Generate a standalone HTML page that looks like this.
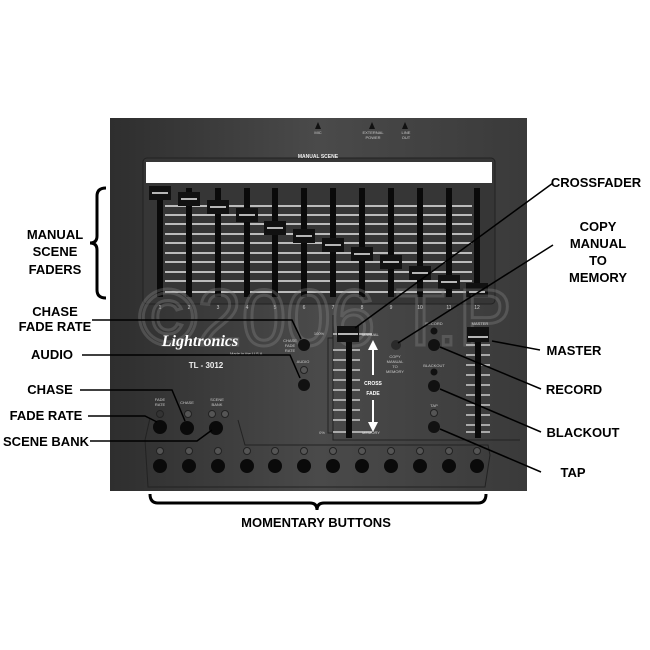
<!DOCTYPE html>
<html><head><style>body{margin:0;background:#fff}svg{display:block}</style></head><body>
<svg width="650" height="650" viewBox="0 0 650 650" xmlns="http://www.w3.org/2000/svg" font-family="Liberation Sans, sans-serif">
<defs>
<linearGradient id="pg" x1="0" x2="1" y1="0" y2="0">
<stop offset="0" stop-color="#2e2e2e"/><stop offset="0.5" stop-color="#4a4a4a"/><stop offset="1" stop-color="#3a3a3a"/></linearGradient>
</defs>
<rect x="0" y="0" width="650" height="650" fill="#fff"/>
<rect x="110" y="118" width="417" height="373" fill="url(#pg)"/>
<g fill="#111"><polygon points="318,122 315,129 321,129"/><polygon points="372,122 369,129 375,129"/><polygon points="405,122 402,129 408,129"/></g>
<g fill="#ccc" font-size="4" text-anchor="middle"><text x="318" y="134">MIC</text><text x="373" y="134">EXTERNAL</text><text x="373" y="139">POWER</text><text x="406" y="134">LINE</text><text x="406" y="139">OUT</text></g>
<rect x="143" y="158" width="352" height="146" rx="4" fill="#363636" stroke="#222"/>
<text x="318" y="158" fill="#eee" font-size="5" font-weight="bold" text-anchor="middle">MANUAL SCENE</text>
<rect x="146" y="162" width="346" height="21" fill="#fff"/>
<g stroke="#bbb" stroke-width="2">
<line x1="165" y1="206" x2="472" y2="206"/><line x1="165" y1="215" x2="472" y2="215"/><line x1="165" y1="224" x2="472" y2="224"/><line x1="165" y1="234" x2="472" y2="234"/><line x1="165" y1="243" x2="472" y2="243"/><line x1="165" y1="253" x2="472" y2="253"/><line x1="165" y1="262" x2="472" y2="262"/><line x1="165" y1="272" x2="472" y2="272"/><line x1="165" y1="281" x2="472" y2="281"/><line x1="165" y1="292" x2="472" y2="292"/>
</g>
<g fill="#0a0a0a">
<rect x="157" y="188" width="6" height="109"/><rect x="186" y="188" width="6" height="109"/><rect x="215" y="188" width="6" height="109"/><rect x="244" y="188" width="6" height="109"/><rect x="272" y="188" width="6" height="109"/><rect x="301" y="188" width="6" height="109"/><rect x="330" y="188" width="6" height="109"/><rect x="359" y="188" width="6" height="109"/><rect x="388" y="188" width="6" height="109"/><rect x="417" y="188" width="6" height="109"/><rect x="446" y="188" width="6" height="109"/><rect x="474" y="188" width="6" height="109"/>
</g>
<g fill="#111">
<rect x="149" y="186" width="22" height="14"/><rect x="178" y="192" width="22" height="14"/><rect x="207" y="200" width="22" height="14"/><rect x="236" y="208" width="22" height="14"/><rect x="264" y="221" width="22" height="14"/><rect x="293" y="229" width="22" height="14"/><rect x="322" y="238" width="22" height="14"/><rect x="351" y="247" width="22" height="14"/><rect x="380" y="255" width="22" height="14"/><rect x="409" y="266" width="22" height="14"/><rect x="438" y="275" width="22" height="14"/><rect x="466" y="283" width="22" height="14"/>
</g>
<g stroke="#eee" stroke-width="1.5">
<line x1="152" y1="193" x2="168" y2="193"/><line x1="181" y1="199" x2="197" y2="199"/><line x1="210" y1="207" x2="226" y2="207"/><line x1="239" y1="215" x2="255" y2="215"/><line x1="267" y1="228" x2="283" y2="228"/><line x1="296" y1="236" x2="312" y2="236"/><line x1="325" y1="245" x2="341" y2="245"/><line x1="354" y1="254" x2="370" y2="254"/><line x1="383" y1="262" x2="399" y2="262"/><line x1="412" y1="273" x2="428" y2="273"/><line x1="441" y1="282" x2="457" y2="282"/><line x1="469" y1="292" x2="485" y2="292"/>
</g>
<g fill="#ccc" font-size="5" text-anchor="middle">
<text x="160" y="309">1</text><text x="189" y="309">2</text><text x="218" y="309">3</text><text x="247" y="309">4</text><text x="275" y="309">5</text><text x="304" y="309">6</text><text x="333" y="309">7</text><text x="362" y="309">8</text><text x="391" y="309">9</text><text x="420" y="309">10</text><text x="449" y="309">11</text><text x="477" y="309">12</text>
</g>
<text x="325" y="345" fill="none" stroke="#888" stroke-opacity="0.35" stroke-width="3" font-size="80" text-anchor="middle">©2006 T.P</text>
<text x="200" y="346" fill="#fff" font-size="16" font-style="italic" font-weight="bold" font-family="Liberation Serif, serif" text-anchor="middle">Lightronics</text>
<text x="230" y="355" fill="#ccc" font-size="4">Made in the U.S.A.</text>
<text x="206" y="368" fill="#eee" font-size="8" font-weight="bold" text-anchor="middle">TL - 3012</text>
<g fill="#ccc" font-size="4" text-anchor="middle"><text x="290" y="342">CHASE</text><text x="290" y="347">FADE</text><text x="290" y="352">RATE</text><text x="303" y="363">AUDIO</text><text x="319" y="335">100%</text><text x="322" y="434">0%</text></g>
<circle cx="304" cy="345" r="6" fill="#111"/>
<circle cx="304" cy="370" r="3.5" fill="#555" stroke="#222"/>
<circle cx="304" cy="385" r="6" fill="#111"/>
<rect x="328" y="338" width="5" height="95" fill="none" stroke="#222"/>
<path d="M333 315 V440 H520" fill="none" stroke="#222"/>
<g stroke="#ccc" stroke-width="1.6">
<line x1="333" y1="350" x2="360" y2="350"/><line x1="333" y1="360" x2="360" y2="360"/><line x1="333" y1="370" x2="360" y2="370"/><line x1="333" y1="380" x2="360" y2="380"/><line x1="333" y1="390" x2="360" y2="390"/><line x1="333" y1="400" x2="360" y2="400"/><line x1="333" y1="410" x2="360" y2="410"/><line x1="333" y1="420" x2="360" y2="420"/><line x1="333" y1="432" x2="372" y2="432"/><line x1="333" y1="334" x2="372" y2="334"/>
</g>
<rect x="346" y="330" width="6" height="108" fill="#0a0a0a"/>
<rect x="337" y="326" width="22" height="16" fill="#111"/>
<line x1="338" y1="334" x2="358" y2="334" stroke="#eee" stroke-width="1.5"/>
<g fill="#ddd" font-size="4"><text x="362" y="336">MANUAL</text><text x="362" y="434">MEMORY</text></g>
<g stroke="#fff" stroke-width="2"><line x1="373" y1="348" x2="373" y2="375"/><line x1="373" y1="400" x2="373" y2="425"/></g>
<polygon points="373,340 368,350 378,350" fill="#fff"/><polygon points="373,432 368,422 378,422" fill="#fff"/>
<g fill="#fff" font-size="5" font-weight="bold" text-anchor="middle"><text x="373" y="385">CROSS</text><text x="373" y="395">FADE</text></g>
<circle cx="396" cy="345" r="5" fill="#2a2a2a"/>
<g fill="#ccc" font-size="4" text-anchor="middle"><text x="395" y="358">COPY</text><text x="395" y="363">MANUAL</text><text x="395" y="368">TO</text><text x="395" y="373">MEMORY</text></g>
<g fill="#ccc" font-size="4" text-anchor="middle"><text x="434" y="325">RECORD</text><text x="434" y="367">BLACKOUT</text><text x="434" y="407">TAP</text><text x="480" y="325">MASTER</text></g>
<circle cx="434" cy="331" r="3.5" fill="#111"/><circle cx="434" cy="345" r="6" fill="#111"/>
<circle cx="434" cy="372" r="3.5" fill="#111"/><circle cx="434" cy="386" r="6" fill="#111"/>
<circle cx="434" cy="413" r="3.5" fill="#555" stroke="#222"/><circle cx="434" cy="427" r="6" fill="#111"/>
<g stroke="#ccc" stroke-width="1.6">
<line x1="466" y1="345" x2="490" y2="345"/><line x1="466" y1="355" x2="490" y2="355"/><line x1="466" y1="365" x2="490" y2="365"/><line x1="466" y1="375" x2="490" y2="375"/><line x1="466" y1="385" x2="490" y2="385"/><line x1="466" y1="395" x2="490" y2="395"/><line x1="466" y1="405" x2="490" y2="405"/><line x1="466" y1="415" x2="490" y2="415"/><line x1="466" y1="425" x2="490" y2="425"/><line x1="466" y1="432" x2="490" y2="432"/>
</g>
<rect x="475" y="330" width="6" height="108" fill="#0a0a0a"/>
<rect x="467" y="327" width="22" height="15" fill="#111"/>
<line x1="468" y1="337" x2="488" y2="337" stroke="#eee" stroke-width="1.5"/>
<path d="M150 418 L145 440 L148 487 L485 487 L490 455 L488 445 L245 445 L238 420" fill="none" stroke="#222"/>
<g fill="#ccc" font-size="4" text-anchor="middle"><text x="160" y="401">FADE</text><text x="160" y="406">RATE</text><text x="187" y="404">CHASE</text><text x="217" y="401">SCENE</text><text x="217" y="406">BANK</text></g>
<circle cx="160" cy="414" r="3.5" fill="#333" stroke="#222"/><circle cx="188" cy="414" r="3.5" fill="#555" stroke="#222"/><circle cx="212" cy="414" r="3.5" fill="#555" stroke="#222"/><circle cx="225" cy="414" r="3.5" fill="#555" stroke="#222"/>
<circle cx="160" cy="427" r="7" fill="#0a0a0a"/><circle cx="187" cy="428" r="7" fill="#0a0a0a"/><circle cx="216" cy="428" r="7" fill="#0a0a0a"/>
<g fill="#555" stroke="#222">
<circle cx="160" cy="451" r="3.5"/><circle cx="189" cy="451" r="3.5"/><circle cx="218" cy="451" r="3.5"/><circle cx="247" cy="451" r="3.5"/><circle cx="275" cy="451" r="3.5"/><circle cx="304" cy="451" r="3.5"/><circle cx="333" cy="451" r="3.5"/><circle cx="362" cy="451" r="3.5"/><circle cx="391" cy="451" r="3.5"/><circle cx="420" cy="451" r="3.5"/><circle cx="449" cy="451" r="3.5"/><circle cx="477" cy="451" r="3.5"/>
</g>
<g fill="#0a0a0a">
<circle cx="160" cy="466" r="7"/><circle cx="189" cy="466" r="7"/><circle cx="218" cy="466" r="7"/><circle cx="247" cy="466" r="7"/><circle cx="275" cy="466" r="7"/><circle cx="304" cy="466" r="7"/><circle cx="333" cy="466" r="7"/><circle cx="362" cy="466" r="7"/><circle cx="391" cy="466" r="7"/><circle cx="420" cy="466" r="7"/><circle cx="449" cy="466" r="7"/><circle cx="477" cy="466" r="7"/>
</g>
<path d="M106 188 Q97 188 97 196 V236 Q97 243 90 243 Q97 243 97 250 V290 Q97 298 106 298" fill="none" stroke="#000" stroke-width="3"/>
<path d="M150 494 Q150 503 158 503 H310 Q317 503 317 510 Q317 503 324 503 H478 Q486 503 486 494" fill="none" stroke="#000" stroke-width="3"/>
<g stroke="#000" stroke-width="1.5" fill="none">
<path d="M92 320 H292 L301 339"/>
<path d="M82 355 H290 L300 378"/>
<path d="M80 390 H172 L185 421"/>
<path d="M88 416 H145 L157 422"/>
<path d="M90 441 H197 L212 430"/>
<line x1="553" y1="183" x2="355" y2="328"/>
<line x1="553" y1="245" x2="398" y2="343"/>
<line x1="540" y1="350" x2="492" y2="341"/>
<line x1="541" y1="389" x2="440" y2="347"/>
<line x1="541" y1="432" x2="440" y2="389"/>
<line x1="541" y1="472" x2="440" y2="429"/>
</g>
<g fill="#000" font-size="13" font-weight="bold" text-anchor="middle">
<text x="55" y="239">MANUAL</text><text x="55" y="256">SCENE</text><text x="55" y="274">FADERS</text>
<text x="55" y="316">CHASE</text><text x="55" y="331">FADE RATE</text>
<text x="52" y="359">AUDIO</text>
<text x="50" y="394">CHASE</text>
<text x="46" y="420">FADE RATE</text>
<text x="46" y="446">SCENE BANK</text>
<text x="596" y="187">CROSSFADER</text>
<text x="598" y="231">COPY</text><text x="598" y="248">MANUAL</text><text x="598" y="265">TO</text><text x="598" y="282">MEMORY</text>
<text x="574" y="355">MASTER</text>
<text x="574" y="394">RECORD</text>
<text x="583" y="437">BLACKOUT</text>
<text x="573" y="477">TAP</text>
<text x="316" y="527">MOMENTARY BUTTONS</text>
</g>
</svg>
</body></html>
